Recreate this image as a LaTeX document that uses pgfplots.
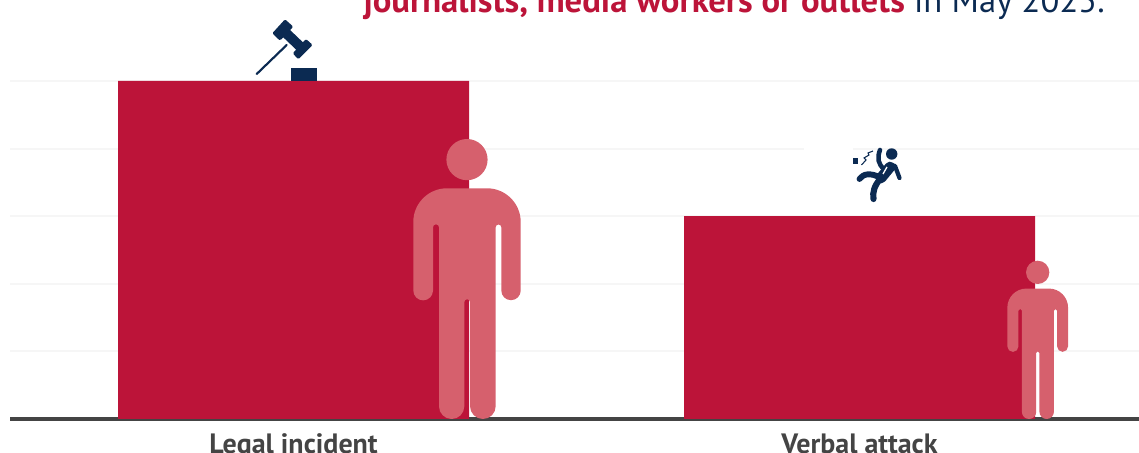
\documentclass[border=0pt]{standalone}
\usepackage{pgfplots}
\pgfplotsset{compat=1.18}
\usepackage{fontspec}
\setmainfont{PT Sans}
\definecolor{crim}{HTML}{BC1439}
\definecolor{pers}{HTML}{D6606D}
\definecolor{navy}{HTML}{0B2A52}
\definecolor{axl}{HTML}{444444}
\definecolor{gridc}{HTML}{F6F6F6}
\newcommand{\person}{%
  \fill[pers] (0,259.4) circle[radius=20.6];
  \fill[pers] (-53.7,128.5) -- (-53.7,197) arc[start angle=180,end angle=90,radius=33.7]
   -- (20,230.7) arc[start angle=90,end angle=0,radius=33.7]
   -- (53.7,128.5) arc[start angle=0,end angle=-180,radius=9.7]
   -- (34.3,191.7) arc[start angle=0,end angle=180,radius=2.8]
   -- (28.7,12.85) arc[start angle=0,end angle=-180,radius=12.85]
   -- (3,116.9) arc[start angle=0,end angle=180,radius=2.85]
   -- (-2.7,12.65) arc[start angle=0,end angle=-180,radius=12.65]
   -- (-28,191.7) arc[start angle=0,end angle=180,radius=3]
   -- (-34,128.5) arc[start angle=0,end angle=-180,radius=9.85] -- cycle;
}
\begin{document}
\begin{tikzpicture}[x=0.75pt,y=0.75pt]
\path[use as bounding box] (0,0) rectangle (1139,453);
\clip (0,0) rectangle (1139,453);
\begin{axis}[
  at={(7.5pt,25.5pt)}, anchor=south west,
  scale only axis, width=846.75pt, height=314.25pt,
  xmin=-0.5009, xmax=1.4938, ymin=0, ymax=6.198,
  axis x line=bottom, axis y line=left,
  x axis line style={-,line width=3pt,color=axl},
  y axis line style={draw=none},
  xtick={0,1}, xticklabels={Legal incident,Verbal attack},
  major tick length=0pt,
  xticklabel style={font=\bfseries\fontsize{21}{24}\selectfont,text=axl,anchor=base,yshift=-26.25pt},
  ytick={1,2,3,4,5}, yticklabels={,,,,}, ymajorgrids,
  grid style={color=gridc,line width=1.5pt},
  ybar, bar width=263.25pt, bar shift=0pt,
  clip=false,
]
\addplot[fill=crim,draw=none] coordinates {(0,5) (1,3)};
\end{axis}
\begin{scope}[yshift=339.75pt,y=-0.75pt]
\fill[white] (804,147) rectangle (853,153);
% gavel
\fill[navy] (290.7,68.3) rectangle (317.3,80.7);
\draw[navy,line width=1.6pt,line cap=round] (256.7,74) -- (286.7,45);
\draw[navy,line width=7.5pt] (282.8,30) -- (302.7,49);
\fill[navy,rounded corners=1pt] (272.3,33.3) -- (285,19.3) -- (293.3,26.7) -- (280,40.7) -- cycle;
\fill[navy,rounded corners=1pt] (292.7,53.3) -- (306,39) -- (312.7,45) -- (298.3,59.3) -- cycle;
% falling man
\fill[navy] (891.7,154) circle[radius=5.7];
\fill[navy] (853.3,158.5) rectangle (858.3,164);
\draw[navy,line width=0.8pt] (861.5,165) -- (866,160) -- (864,158) -- (869,155) -- (868,153) -- (873,151);
\draw[navy,line width=3.4pt,line cap=round] (880,150) .. controls (877,158) and (878,164) .. (884,169);
\draw[navy,line width=3.2pt,line cap=round,line join=round] (891,165) -- (895,166) -- (899.5,178);
\draw[navy,line width=8pt,line cap=round] (890,167) -- (881,178);
\draw[navy,line width=4.4pt,line cap=round] (881,178) .. controls (870,172) and (863,174) .. (859.5,179);
\draw[navy,line width=4.6pt,line cap=round] (881,178) .. controls (874,186) and (872.5,192) .. (873.5,199);
\draw[white,line width=1pt] (887,167) -- (883,174);
\end{scope}
\begin{scope}[shift={(467,34)}]
\person
\end{scope}
\begin{scope}[shift={(1037.7,34)},x=0.424pt,y=0.424pt]
\person
\end{scope}
\node[anchor=base east,inner sep=0pt,font=\fontsize{26}{30}\selectfont,text=navy] at (1105,440)
  {\textcolor{crim}{\bfseries journalists, media workers or outlets} in May 2025.};
\end{tikzpicture}
\end{document}
